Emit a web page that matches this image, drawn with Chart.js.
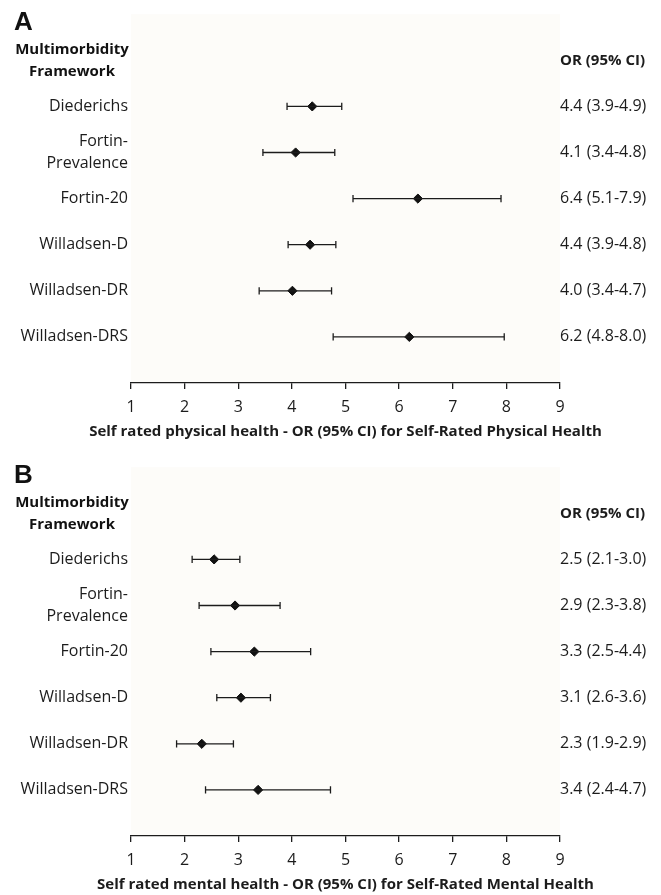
<!DOCTYPE html>
<html>
<head>
<meta charset="utf-8">
<script src="https://cdn.jsdelivr.net/npm/chart.js@4.4.1/dist/chart.umd.min.js"></script>
<style>
  body { margin: 0; background: #fff; overflow: hidden; }
  canvas { display: block; }
</style>
</head>
<body>
<canvas id="chart-a" width="661" height="453"></canvas>
<canvas id="chart-b" width="661" height="453"></canvas>
<script>
// rows of the forest plot, top to bottom
var frameworks = ['Diederichs', ['Fortin-', 'Prevalence'], 'Fortin-20', 'Willadsen-D', 'Willadsen-DR', 'Willadsen-DRS'];

// panel A - self rated physical health
var physOR = [4.38, 4.07, 6.35, 4.34, 4.01, 6.19];
var physLo = [3.91, 3.46, 5.14, 3.93, 3.39, 4.77];
var physHi = [4.93, 4.80, 7.90, 4.82, 4.74, 7.96];
var physText = ['4.4 (3.9-4.9)', '4.1 (3.4-4.8)', '6.4 (5.1-7.9)', '4.4 (3.9-4.8)', '4.0 (3.4-4.7)', '6.2 (4.8-8.0)'];

// panel B - self rated mental health
var mentOR = [2.55, 2.94, 3.30, 3.05, 2.32, 3.37];
var mentLo = [2.14, 2.27, 2.49, 2.60, 1.85, 2.39];
var mentHi = [3.03, 3.78, 4.35, 3.60, 2.91, 4.72];
var mentText = ['2.5 (2.1-3.0)', '2.9 (2.3-3.8)', '3.3 (2.5-4.4)', '3.1 (2.6-3.6)', '2.3 (1.9-2.9)', '3.4 (2.4-4.7)'];

var xTicks = [1, 2, 3, 4, 5, 6, 7, 8, 9];

var ink = '#1c1c1c';
var font = '"Open Sans"';

function forest(el, letter, est, lo, hi, orText, xTitle) {
  var datasets = [];
  // whiskers, one small line per row, caps drawn as vertical 'line' points
  for (var i = 0; i < est.length; i++) {
    datasets.push({
      data: [{ x: lo[i], y: i }, { x: hi[i], y: i }],
      showLine: true,
      borderColor: ink,
      borderWidth: 1.3,
      pointStyle: 'line',
      rotation: 90,
      pointRadius: 3.6,
      pointBorderWidth: 1.3,
      pointBorderColor: ink
    });
  }
  // the odds ratio diamonds
  datasets.push({
    data: est.map(function(v, i) { return { x: v, y: i }; }),
    pointStyle: 'rectRot',
    pointRadius: 4.6,
    pointBackgroundColor: '#111',
    pointBorderColor: '#111',
    pointBorderWidth: 1
  });

  // panel letter, left header and the axis title (chart.js squeezes long
  // axis titles to the scale width, so it is drawn here instead)
  var panelText = {
    id: 'panelText',
    beforeDraw: function(chart) {
      var a = chart.chartArea, ctx = chart.ctx;
      ctx.save();
      ctx.fillStyle = '#fdfcf9';
      ctx.fillRect(a.left, a.top, a.right - a.left, a.bottom - a.top);
      ctx.restore();
    },
    afterDraw: function(chart) {
      var ctx = chart.ctx, a = chart.chartArea;
      var yh = chart.scales.y.getPixelForValue(-1);
      ctx.save();
      ctx.fillStyle = '#111';
      ctx.textBaseline = 'middle';
      ctx.textAlign = 'left';
      ctx.font = 'bold 26px "Liberation Sans"';
      ctx.fillText(letter, 14, 23);
      ctx.textAlign = 'center';
      ctx.font = 'bold 15px ' + font;
      ctx.fillText('Multimorbidity', 72, yh - 11);
      ctx.fillText('Framework', 72, yh + 11);
      ctx.fillStyle = ink;
      ctx.fillText(xTitle, (a.left + a.right) / 2, a.bottom + 49);
      ctx.restore();
    }
  };

  var rowAxis = function(pos, labels) {
    return {
      type: 'linear',
      position: pos,
      reverse: true,
      min: -2,
      max: 6,
      afterBuildTicks: function(s) {
        s.ticks = [-1, 0, 1, 2, 3, 4, 5].map(function(v) { return { value: v }; });
      },
      afterFit: function(s) { s.width = pos === 'left' ? 131 : 101; },
      grid: { display: false, drawTicks: false },
      border: { display: false },
      ticks: {
        padding: pos === 'left' ? 3 : 0,
        color: ink,
        autoSkip: false,
        font: function(c) {
          var bold = c.tick && c.tick.value === -1;
          return { family: font, size: bold ? 15 : 16, weight: bold ? 'bold' : 'normal', lineHeight: 1.4 };
        },
        callback: function(v) {
          if (v === -1) return pos === 'left' ? '' : 'OR (95% CI)';
          return labels[v] !== undefined ? labels[v] : '';
        }
      }
    };
  };

  return new Chart(document.getElementById(el), {
    type: 'scatter',
    data: { datasets: datasets },
    plugins: [panelText],
    options: {
      responsive: false,
      animation: false,
      layout: { padding: { top: 13.5, left: 0, right: 0, bottom: 0 } },
      plugins: { legend: { display: false }, tooltip: { enabled: false } },
      scales: {
        x: {
          type: 'linear',
          min: 1,
          max: 9,
          afterBuildTicks: function(s) {
            s.ticks = xTicks.map(function(v) { return { value: v }; });
          },
          afterFit: function(s) { s.height = 70; },
          grid: { drawOnChartArea: false, drawTicks: true, tickLength: 6, color: ink, lineWidth: 1.3 },
          border: { display: true, color: ink, width: 1.3 },
          ticks: { color: ink, padding: 9, font: { family: font, size: 16 } },
          title: { display: false }
        },
        y: rowAxis('left', frameworks),
        y2: rowAxis('right', orText)
      }
    }
  });
}

forest('chart-a', 'A', physOR, physLo, physHi, physText,
  'Self rated physical health - OR (95% CI) for Self-Rated Physical Health');
forest('chart-b', 'B', mentOR, mentLo, mentHi, mentText,
  'Self rated mental health - OR (95% CI) for Self-Rated Mental Health');
</script>
</body>
</html>
